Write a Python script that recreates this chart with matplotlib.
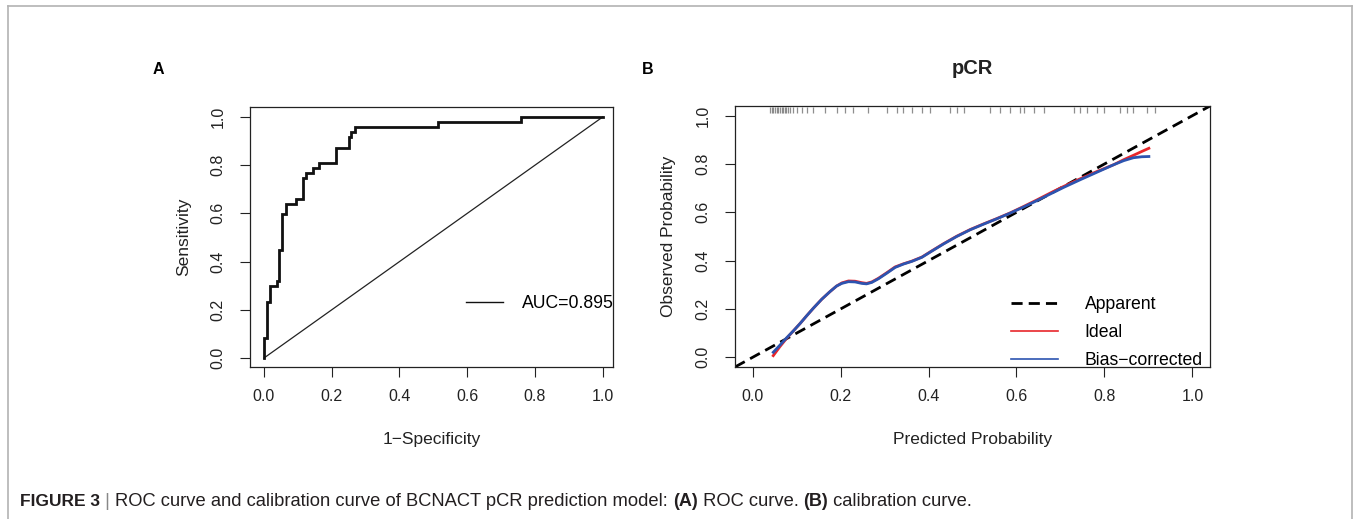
import numpy as np
import matplotlib
matplotlib.use("Agg")
import matplotlib.pyplot as plt
from matplotlib.lines import Line2D

plt.rcParams['font.family'] = ['Liberation Sans', 'DejaVu Sans']

# ---------------- data ----------------
# Panel A: ROC step curve (1-specificity, sensitivity)
roc_fpr = [0.0, 0.0, 0.010, 0.010, 0.019, 0.019, 0.038, 0.038, 0.046, 0.046,
           0.054, 0.054, 0.064, 0.064, 0.096, 0.096, 0.115, 0.115, 0.125, 0.125,
           0.145, 0.145, 0.163, 0.163, 0.212, 0.212, 0.251, 0.251, 0.258, 0.258,
           0.268, 0.268, 0.514, 0.514, 0.758, 0.758, 1.0]
roc_tpr = [0.0, 0.085, 0.085, 0.234, 0.234, 0.298, 0.298, 0.319, 0.319, 0.447,
           0.447, 0.596, 0.596, 0.638, 0.638, 0.660, 0.660, 0.745, 0.745, 0.766,
           0.766, 0.787, 0.787, 0.809, 0.809, 0.872, 0.872, 0.915, 0.915, 0.936,
           0.936, 0.957, 0.957, 0.979, 0.979, 1.0, 1.0]
auc_label = "AUC=0.895"

# Panel B: calibration curves
cal_x = [0.047, 0.062, 0.077, 0.093, 0.108, 0.123, 0.138, 0.157, 0.176, 0.191,
         0.203, 0.218, 0.233, 0.248, 0.259, 0.271, 0.286, 0.305, 0.324, 0.343,
         0.362, 0.385, 0.407, 0.434, 0.464, 0.495, 0.525, 0.555, 0.586, 0.616,
         0.646, 0.677, 0.707, 0.745, 0.783, 0.821, 0.844, 0.866, 0.885, 0.901]
ideal_y = [0.007, 0.044, 0.078, 0.110, 0.140, 0.172, 0.203, 0.240, 0.272, 0.295,
           0.308, 0.316, 0.315, 0.309, 0.306, 0.312, 0.327, 0.350, 0.374, 0.387,
           0.398, 0.415, 0.440, 0.470, 0.501, 0.529, 0.552, 0.574, 0.598, 0.624,
           0.651, 0.680, 0.707, 0.739, 0.769, 0.797, 0.818, 0.836, 0.852, 0.865]
bias_y = [0.021, 0.050, 0.080, 0.110, 0.140, 0.172, 0.203, 0.240, 0.272, 0.295,
          0.306, 0.313, 0.312, 0.306, 0.304, 0.310, 0.325, 0.348, 0.372, 0.386,
          0.397, 0.414, 0.439, 0.469, 0.500, 0.528, 0.551, 0.573, 0.597, 0.622,
          0.648, 0.676, 0.703, 0.735, 0.766, 0.797, 0.814, 0.826, 0.830, 0.831]
rug_x = [0.039, 0.043, 0.047, 0.051, 0.055, 0.058, 0.062, 0.066, 0.070, 0.074,
         0.077, 0.081, 0.085, 0.093, 0.100, 0.112, 0.123, 0.138, 0.165, 0.191,
         0.210, 0.229, 0.263, 0.305, 0.328, 0.343, 0.362, 0.385, 0.404, 0.449,
         0.464, 0.480, 0.540, 0.563, 0.586, 0.609, 0.616, 0.639, 0.662, 0.730,
         0.745, 0.760, 0.783, 0.798, 0.836, 0.851, 0.866, 0.897, 0.916]
legend_labels = ["Apparent", "Ideal", "Bias\u2212corrected"]
ticks = [0.0, 0.2, 0.4, 0.6, 0.8, 1.0]
tick_labels = ["0.0", "0.2", "0.4", "0.6", "0.8", "1.0"]

# ---------------- figure ----------------
W, H = 1356, 519
fig = plt.figure(figsize=(W / 100, H / 100), dpi=100)
INK = '#222222'

def px_axes(l, t, r, b):
    return fig.add_axes([l / W, 1 - b / H, (r - l) / W, (b - t) / H])

def style_axes(ax):
    for s in ax.spines.values():
        s.set_linewidth(0.9)
        s.set_color(INK)
    ax.set_xticks(ticks)
    ax.set_xticklabels(tick_labels)
    ax.set_yticks(ticks)
    ax.set_yticklabels(tick_labels, rotation=90, va='center')
    ax.tick_params(axis='both', direction='out', length=7.2, width=0.8,
                   labelsize=11.5, colors=INK)
    ax.tick_params(axis='x', pad=8.5)
    ax.tick_params(axis='y', pad=10.5)

# Panel A
axA = px_axes(250, 107, 613, 367)
axA.set_xlim(-0.041, 1.030)
axA.set_ylim(-0.037, 1.041)
axA.plot([0, 1], [0, 1], color=INK, lw=0.9)
axA.plot(roc_fpr, roc_tpr, color='#111111', lw=2.0, solid_joinstyle='miter')
style_axes(axA)
axA.set_xlabel("1\u2212Specificity", fontsize=12.5, labelpad=20, color=INK)
axA.set_ylabel("Sensitivity", fontsize=12.5, labelpad=14, color=INK)
axA.legend(handles=[Line2D([], [], color='#111111', lw=1.0)], labels=[auc_label],
           loc='center right', bbox_to_anchor=(1.022, 0.245),
           frameon=False, fontsize=12.7, handlelength=2.1, handletextpad=1.1,
           borderaxespad=0.0)

# Panel B
axB = px_axes(735, 106, 1210, 367)
axB.set_xlim(-0.04, 1.04)
axB.set_ylim(-0.04, 1.04)
axB.plot([-0.04, 1.04], [-0.04, 1.04], color='black', lw=2.0, linestyle=(0, (4, 2.2)))
axB.plot(cal_x, ideal_y, color='#e8262b', lw=2.0)
axB.plot(cal_x, bias_y, color='#2c54b0', lw=2.0)
axB.vlines(rug_x, 0.975, 0.998, transform=axB.get_xaxis_transform(),
           color='#7a7a7a', lw=0.9, alpha=0.85)
style_axes(axB)
axB.set_xlabel("Predicted Probability", fontsize=12.5, labelpad=20, color=INK)
axB.set_ylabel("Observed Probability", fontsize=12.5, labelpad=14, color=INK)
axB.set_title("pCR", fontsize=14.5, fontweight='bold', pad=23, color=INK)
handles = [Line2D([], [], color='black', lw=2.0, linestyle=(0, (4, 2.2))),
           Line2D([], [], color='#e8262b', lw=1.2),
           Line2D([], [], color='#2c54b0', lw=1.2)]
axB.legend(handles=handles, labels=legend_labels, loc='lower right',
           bbox_to_anchor=(1.0, -0.034), frameon=False, fontsize=12.7,
           handlelength=2.7, handletextpad=1.5, labelspacing=0.62, borderaxespad=0.0)

# panel letters
fig.text(158 / W, 1 - 70 / H, "A", fontsize=11.5, fontweight='bold', ha='center', va='center')
fig.text(648 / W, 1 - 70 / H, "B", fontsize=11.5, fontweight='bold', ha='center', va='center')

# border
bc = '#b3b3b3'
fig.add_artist(Line2D([8 / W, 1352 / W], [1 - 6 / H, 1 - 6 / H], color=bc, lw=1.2))
fig.add_artist(Line2D([8 / W, 8 / W], [0, 1 - 6 / H], color=bc, lw=1.2))
fig.add_artist(Line2D([1352 / W, 1352 / W], [0, 1 - 6 / H], color=bc, lw=1.2))

# caption with mixed weights
pieces = [("FIGURE 3", 'bold', '#231f20', 12.5), (" | ", 'normal', '#888888', 13.2),
          ("ROC curve and calibration curve of BCNACT pCR prediction model: ", 'normal', '#231f20', 13.2),
          ("(A)", 'bold', '#231f20', 13.0), (" ROC curve. ", 'normal', '#231f20', 13.2),
          ("(B)", 'bold', '#231f20', 13.0), (" calibration curve.", 'normal', '#231f20', 13.2)]
texts = []
for txt, wt, col, fs in pieces:
    texts.append(fig.text(20 / W, 1 - 510 / H, txt, fontsize=fs, fontweight=wt,
                          color=col, ha='left', va='baseline'))
fig.canvas.draw()
r = fig.canvas.get_renderer()
x = texts[0].get_window_extent(r).x1
y0 = texts[0].get_position()[1]
y0 = 1 - 506 / H
texts[0].set_position((20 / W, y0))
for t in texts[1:]:
    t.set_position((x / W, y0))
    x = t.get_window_extent(r).x1

fig.savefig("out.png", dpi=100)
